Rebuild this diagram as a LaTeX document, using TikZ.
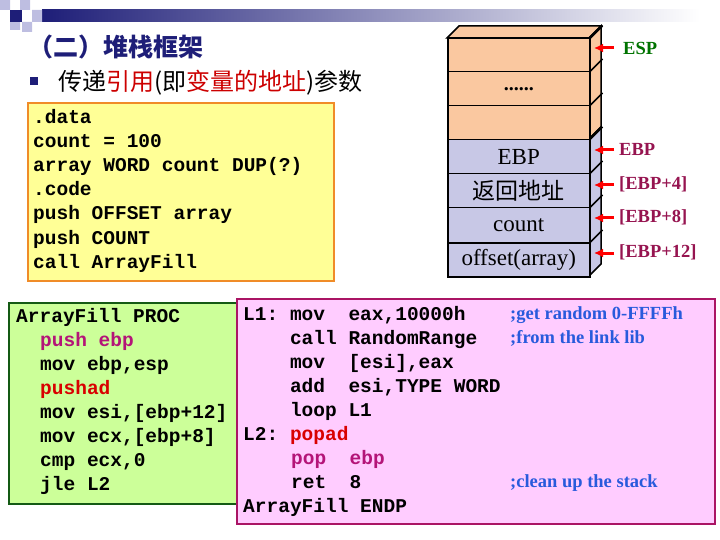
\documentclass[tikz,border=0pt]{standalone}
\usepackage{fontspec}
\setmainfont{Liberation Serif}
\setmonofont{Liberation Mono}
\newfontfamily\cjk{Noto Sans CJK SC}
\usetikzlibrary{arrows.meta}
\definecolor{navy}{RGB}{30,30,120}
\definecolor{lav}{RGB}{190,190,225}
\definecolor{stkor}{RGB}{250,200,160}
\definecolor{stkbl}{RGB}{200,200,230}
\definecolor{ylw}{RGB}{255,255,150}
\definecolor{orb}{RGB}{240,140,40}
\definecolor{grn}{RGB}{204,255,153}
\definecolor{grnb}{RGB}{20,90,20}
\definecolor{pnk}{RGB}{255,204,255}
\definecolor{pnkb}{RGB}{170,20,100}
\definecolor{mag}{RGB}{180,20,120}
\definecolor{cblue}{RGB}{40,90,220}
\definecolor{ebpc}{RGB}{150,20,80}
\begin{document}
\begin{tikzpicture}[x=1pt,y=-1pt,
  code/.style={anchor=base west,inner sep=0pt,font=\ttfamily\bfseries\fontsize{19.5}{24}\selectfont},
  cmt/.style={anchor=base west,inner sep=0pt,font=\bfseries\fontsize{18.5}{20}\selectfont,text=cblue},
  cell/.style={draw=black,line width=1.5pt},
  stxt/.style={inner sep=0pt,font=\fontsize{23}{24}\selectfont},
  lbl/.style={anchor=west,inner sep=0pt,font=\bfseries\fontsize{18.5}{20}\selectfont,text=ebpc},
  arr/.style={-{Latex[length=9pt,width=9pt]},red,line width=3pt}]
\useasboundingbox (0,0) rectangle (720,540);
% header
\shade[left color=navy,right color=white] (42,10) rectangle (700,22);
\fill[lav] (0,0) rectangle (10,10) (20,0) rectangle (30,10) (32,10) rectangle (42,22) (22,22) rectangle (32,32) (10,22) rectangle (20,30);
\fill[navy] (10,10) rectangle (22,22);
\node[anchor=base west,inner sep=0pt,font=\cjk\bfseries\fontsize{25}{27}\selectfont,text=navy] (title) at (28,57) {（二）堆栈框架};
\fill[navy] (30,77) rectangle (38,85);
\node[anchor=base west,inner sep=0pt,font=\cjk\fontsize{24}{26}\selectfont] (sub) at (58,91) {传递\textcolor{red!80!black}{引用}(即\textcolor{red!80!black}{变量的地址})参数};
% yellow box
\node[draw=orb,fill=ylw,line width=2pt,minimum width=306pt,minimum height=178pt,anchor=north west,inner sep=0pt] (yb) at (27,102) {};
\foreach \t [count=\i] in {.data,count = 100,array WORD count DUP(?),.code,push OFFSET array,push COUNT,call ArrayFill}
  \node[code] (y\i) at (33,100+24*\i) {\t};
% stack
\fill[stkor,draw=black,line width=1.5pt] (447,38) -- (459,26) -- (601,26) -- (589,38) -- cycle;
\fill[stkor,draw=black,line width=1.5pt] (589,38) -- (601,26) -- (601,127) -- (589,139) -- cycle;
\fill[stkbl,draw=black,line width=1.5pt] (589,139) -- (601,127) -- (601,264) -- (589,276) -- cycle;
\foreach \a/\b [count=\i] in {38/71,71/105,105/139}
  \node[cell,fill=stkor,minimum width=142pt,minimum height=\b-\a,anchor=north west,inner sep=0pt] (s\i) at (447,\a) {};
\foreach \a/\b [count=\i from 4] in {139/173,173/207,207/242,242/276}
  \node[cell,fill=stkbl,minimum width=142pt,minimum height=\b-\a,anchor=north west,inner sep=0pt] (s\i) at (447,\a) {};
\foreach \i in {1,...,7}{\draw[line width=1.5pt] (s\i.north east) -- ++(12,-12);}
\node[stxt,font=\bfseries\fontsize{20}{22}\selectfont] at (s2) {......};
\node[stxt] at (s4) {EBP};
\node[stxt,font=\cjk\fontsize{23}{24}\selectfont] at (s5) {返回地址};
\node[stxt] at (s6) {count};
\node[stxt] at (s7) {offset(array)};
\coordinate (aE) at (614,48);
\draw[arr] (aE) -- (594,48);
\node[lbl,text=green!45!black] at (623,48) {ESP};
\foreach \y/\t [count=\i] in {150/EBP,185/[EBP+4],218/[EBP+8],253/[EBP+12]}{
  \coordinate (a\i) at (614,\y);
  \draw[arr] (a\i) -- (594,\y);
  \node[lbl] at (619,\y-1) {\t};}
% green box
\node[draw=grnb,fill=grn,line width=2pt,minimum width=232pt,minimum height=201pt,anchor=north west,inner sep=0pt] (gb) at (8,302) {};
\node[code] (g1) at (16,322) {ArrayFill PROC};
\node[code,text=mag] (g2) at (40,346) {push ebp};
\node[code] (g3) at (40,370) {mov ebp,esp};
\node[code,text=red!85!black] (g4) at (40,394) {pushad};
\node[code] (g5) at (40,418) {mov esi,[ebp+12]};
\node[code] (g6) at (40,442) {mov ecx,[ebp+8]};
\node[code] (g7) at (40,466) {cmp ecx,0};
\node[code] (g8) at (40,490) {jle L2};
% pink box
\node[draw=pnkb,fill=pnk,line width=2pt,minimum width=478pt,minimum height=225pt,anchor=north west,inner sep=0pt] (pb) at (236,298) {};
\node[code] (p1) at (243,320) {L1: mov\ \ eax,10000h};
\node[code] (p2) at (243,344) {\ \ \ \ call RandomRange};
\node[code] (p3) at (243,368) {\ \ \ \ mov\ \ [esi],eax};
\node[code] (p4) at (243,392) {\ \ \ \ add\ \ esi,TYPE WORD};
\node[code] (p5) at (243,416) {\ \ \ \ loop L1};
\node[code] (p6) at (243,440) {L2: \textcolor{red!85!black}{popad}};
\node[code,text=mag] (p7) at (291,464) {pop\ \ ebp};
\node[code] (p8) at (291,488) {ret\ \ 8};
\node[code] (p9) at (243,512) {ArrayFill ENDP};
\node[cmt] (c1) at (510,319) {;get random 0-FFFFh};
\node[cmt] (c2) at (510,343) {;from the link lib};
\node[cmt] (c3) at (510,487) {;clean up the stack};
\end{tikzpicture}
\end{document}
